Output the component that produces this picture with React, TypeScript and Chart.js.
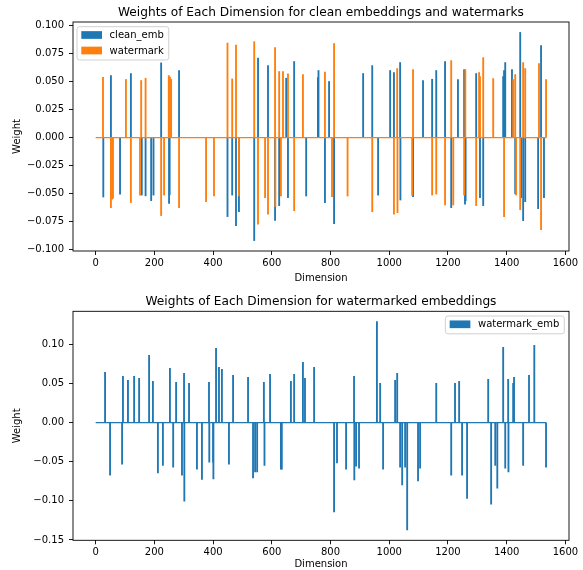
import React, { useEffect, useRef } from 'react';
import { Chart, registerables } from 'chart.js';

Chart.register(...registerables);

const N_DIMS = 1536;
const BLUE = '#1f77b4';
const ORANGE = '#ff7f0e';
const FONT = '"DejaVu Sans", sans-serif';

const TOP_TITLE = 'Weights of Each Dimension for clean embeddings and watermarks';
const BOTTOM_TITLE = 'Weights of Each Dimension for watermarked embeddings';
const X_LABEL = 'Dimension';
const Y_LABEL = 'Weight';
const CLEAN_LABEL = 'clean_emb';
const WM_LABEL = 'watermark';
const WMEMB_LABEL = 'watermark_emb';

const CLEAN_DIMS = [26, 52, 83, 120, 157, 170, 189, 197, 223, 250, 252, 284,
  449, 465, 478, 488, 540, 553, 587, 611, 625, 649, 655, 676, 717, 757, 759, 781,
  795, 812, 911, 942, 962, 1003, 1016, 1037, 1038, 1081, 1115, 1146, 1160, 1190,
  1211, 1234, 1255, 1258, 1260, 1296, 1309, 1320, 1388, 1391, 1395, 1418, 1429, 1446, 1449, 1456, 1463, 1507, 1517, 1527];
const CLEAN_VALS = [-0.053, 0.0554, -0.0504, 0.0572, -0.0513, -0.052, -0.0563, -0.0513, 0.0667, -0.0587, -0.051, 0.0599,
  -0.0705, -0.0513, -0.0785, -0.066, -0.0919, 0.0711, 0.0643, -0.074, -0.0607, 0.053, -0.0536, 0.0679, -0.0521, 0.0536, 0.0599, -0.058,
  0.0501, -0.0767, 0.0572, 0.0643, -0.0513, 0.0599, 0.0581, 0.067, -0.0557, -0.0527, 0.051, 0.0521, 0.0599, 0.0679,
  -0.0625, 0.0519, 0.0607, -0.0593, -0.0563, 0.0572, -0.0536, -0.0607, 0.0545, 0.0599, 0.067, 0.0607, -0.0501, 0.0939, -0.0536, -0.0741, -0.0572, -0.0634, 0.0821, -0.0536];

const WM_DIMS = [25, 52, 56, 59, 103, 120, 151, 155, 170, 223, 233, 249, 253, 257, 284, 376,
  403, 449, 465, 478, 488, 540, 553, 577, 587, 611, 612, 625, 631, 638, 655, 676, 706, 781,
  805, 812, 858, 942, 1016, 1027, 1028, 1078, 1081, 1146, 1160, 1190,
  1211, 1218, 1255, 1259, 1296, 1306, 1309, 1320, 1354, 1391, 1422, 1429, 1432, 1446, 1456, 1463, 1510, 1517, 1534];
const WM_VALS = [0.0539, -0.0625, -0.055, -0.054, 0.0519, -0.058, -0.0513, 0.051, 0.053, -0.0696, -0.0513, 0.0554, 0.054, 0.052, -0.0625, -0.0572,
  -0.0521, 0.0844, 0.0524, 0.0827, -0.0521, 0.0856, -0.0773, -0.0536, -0.0684, 0.0803, -0.0616, 0.059, -0.0521, 0.059, 0.0569, -0.0652, 0.0563, 0.0584,
  -0.0527, 0.0839, -0.0521, -0.0661, -0.0684, 0.0616, -0.067, -0.0516, 0.0607, -0.0513, -0.0504, -0.0601,
  0.0687, -0.0601, -0.0513, 0.0607, -0.0607, 0.0581, 0.0545, 0.0714, 0.0527, -0.0705, 0.0519, 0.0563, -0.0513, -0.0643, 0.067, 0.0616, 0.0661, -0.0821, 0.0519];

const WMEMB_DIMS = [32, 49, 90, 93, 110, 131, 148, 182, 195, 212, 229, 253, 264, 274, 294, 301, 302, 318, 345, 362,
  386, 387, 400, 401, 410, 420, 430, 454, 468, 519, 536, 543, 550, 573, 575, 594, 631, 634, 665, 676, 706, 713, 744,
  812, 822, 853, 880, 881, 887, 897, 958, 969, 979, 1020, 1027, 1037, 1044, 1054, 1061, 1098, 1105, 1160,
  1211, 1224, 1238, 1248, 1265, 1337, 1347, 1361, 1368, 1388, 1395, 1405, 1406, 1422, 1425, 1456, 1476, 1494, 1534];
const WMEMB_VALS = [0.0644, -0.0673, -0.0533, 0.0593, 0.0541, 0.0593, 0.0567, 0.0861, 0.0529, -0.0644, -0.0546, 0.0695, -0.0571, 0.0516, -0.0673, 0.0631, -0.1006, 0.0503, -0.0597, -0.0725,
  0.0516, -0.0507, -0.0507, -0.072, 0.0951, 0.0708, 0.0682, -0.0533, 0.0605, 0.058, -0.0708, -0.0631, -0.0631, 0.0516, -0.0546, 0.0618, -0.0597, -0.0597, 0.0529, 0.0618, 0.0772, 0.0567, 0.0708,
  -0.1142, -0.0516, -0.0597, 0.0593, -0.0733, -0.0558, -0.0584, 0.129, 0.0503, -0.0597, 0.0541, 0.0631, -0.0571, -0.0797, -0.0571, -0.1372, -0.0746, -0.0584, 0.0503,
  -0.0673, 0.0503, 0.0529, -0.0673, -0.0968, 0.0554, -0.1044, -0.0546, -0.084, 0.0963, -0.0584, 0.0554, -0.0631, 0.0503, 0.058, -0.0546, 0.0605, 0.0989, -0.0571];

const X_TICKS = [0, 200, 400, 600, 800, 1000, 1200, 1400, 1600];
const TOP_Y_TICKS = [-0.1, -0.075, -0.05, -0.025, 0, 0.025, 0.05, 0.075, 0.1];
const BOTTOM_Y_TICKS = [-0.15, -0.1, -0.05, 0, 0.05, 0.1];
const X_RANGE = [-77.2, 1612.2];
const TOP_Y_RANGE = [-0.1012, 0.1032];
const BOTTOM_Y_RANGE = [-0.1505, 0.1423];

const fmt = (v: number, d: number) => v.toFixed(d).replace('-', '\u2212');

const pts = (dims: number[], vals: number[]) => dims.map((d, i) => ({ x: d, y: vals[i] }));

type LegendItem = { label: string; color: string };

const overlay = (title: string, items: LegendItem[], corner: 'left' | 'right') => ({
  id: 'overlay',
  afterDraw(chart: any) {
    const { ctx, chartArea: a } = chart;
    ctx.save();
    // axes frame
    ctx.strokeStyle = '#000';
    ctx.lineWidth = 0.9;
    ctx.strokeRect(a.left, a.top, a.right - a.left, a.bottom - a.top);
    // title centred over the axes
    ctx.font = `12.2px ${FONT}`;
    ctx.fillStyle = '#000';
    ctx.textAlign = 'center';
    ctx.textBaseline = 'alphabetic';
    ctx.fillText(title, (a.left + a.right) / 2, a.top - 6.3);
    // legend
    ctx.font = `10px ${FONT}`;
    const textW = Math.max(...items.map((it) => ctx.measureText(it.label).width));
    const w = 4.3 + 20.7 + 7.6 + textW + 5;
    const h = 8.3 + 15.5 * (items.length - 1) + 9.5;
    const x = corner === 'left' ? a.left + 4 : a.right - 4.7 - w;
    const y = a.top + 4.7;
    ctx.beginPath();
    (ctx as any).roundRect(x, y, w, h, 2.5);
    ctx.fillStyle = 'rgba(255,255,255,0.8)';
    ctx.fill();
    ctx.strokeStyle = '#d0d0d0';
    ctx.lineWidth = 1;
    ctx.stroke();
    items.forEach((it, i) => {
      const cy = y + 8.3 + i * 15.5;
      ctx.fillStyle = it.color;
      ctx.fillRect(x + 4.3, cy - 3.85, 20.7, 7.7);
      ctx.fillStyle = '#000';
      ctx.textBaseline = 'middle';
      ctx.textAlign = 'left';
      ctx.fillText(it.label, x + 4.3 + 20.7 + 7.6, cy + 0.5);
    });
    ctx.restore();
  },
});

const makeOptions = (o: {
  topPad: number; yRange: number[]; yTicks: number[]; yDec: number; xAxisH: number; xTitlePadB: number;
}) => ({
  responsive: false,
  animation: false as const,
  devicePixelRatio: 1,
  layout: { padding: { left: 0, right: 14, top: o.topPad, bottom: 0 } },
  plugins: {
    legend: { display: false },
    tooltip: { enabled: false },
    title: { display: false },
  },
  scales: {
    x: {
      type: 'linear' as const,
      offset: false,
      min: X_RANGE[0],
      max: X_RANGE[1],
      afterBuildTicks: (s: any) => { s.ticks = X_TICKS.map((v) => ({ value: v })); },
      afterFit: (s: any) => { s.height = o.xAxisH; },
      ticks: {
        autoSkip: false, maxRotation: 0, color: '#000', padding: 2,
        font: { family: FONT, size: 10 },
        callback: (v: any) => String(v),
      },
      grid: { display: true, offset: false, drawOnChartArea: false, drawTicks: true, tickLength: 4, tickColor: '#000', tickWidth: 0.9 },
      border: { display: false },
      title: { display: true, text: X_LABEL, color: '#000', font: { family: FONT, size: 10, lineHeight: 1.2 }, padding: { top: 0, bottom: o.xTitlePadB } },
    },
    y: {
      type: 'linear' as const,
      min: o.yRange[0],
      max: o.yRange[1],
      afterBuildTicks: (s: any) => { s.ticks = o.yTicks.map((v) => ({ value: v })); },
      afterFit: (s: any) => { s.width = 73; },
      ticks: {
        color: '#000', padding: 5,
        font: { family: FONT, size: 10 },
        callback: (v: any) => fmt(Number(v), o.yDec),
      },
      grid: { display: true, drawOnChartArea: false, drawTicks: true, tickLength: 4, tickColor: '#000', tickWidth: 0.9 },
      border: { display: false },
      title: { display: true, text: Y_LABEL, color: '#000', font: { family: FONT, size: 10, lineHeight: 1.2 }, padding: { top: 11, bottom: 0 } },
    },
  },
});

const barDs = (label: string, dims: number[], vals: number[], color: string, order: number) => ({
  type: 'bar' as const,
  label,
  data: pts(dims, vals),
  backgroundColor: color,
  borderWidth: 0,
  barThickness: 1.2,
  grouped: false,
  order,
});

const zeroLine = (color: string, order: number) => ({
  type: 'line' as const,
  label: '',
  data: [{ x: 0, y: 0 }, { x: N_DIMS - 1, y: 0 }],
  borderColor: color,
  borderWidth: 1.1,
  pointRadius: 0,
  order,
});

export default function App() {
  const topRef = useRef<HTMLCanvasElement>(null);
  const botRef = useRef<HTMLCanvasElement>(null);

  useEffect(() => {
    const top = new Chart(topRef.current!, {
      type: 'bar',
      data: {
        datasets: [
          zeroLine(ORANGE, -1),
          barDs(WM_LABEL, WM_DIMS, WM_VALS, ORANGE, 0),
          barDs(CLEAN_LABEL, CLEAN_DIMS, CLEAN_VALS, BLUE, 1),
        ] as any,
      },
      options: makeOptions({
        topPad: 22, yRange: TOP_Y_RANGE, yTicks: TOP_Y_TICKS, yDec: 3, xAxisH: 39, xTitlePadB: 6,
      }) as any,
      plugins: [overlay(TOP_TITLE, [{ label: CLEAN_LABEL, color: BLUE }, { label: WM_LABEL, color: ORANGE }], 'left')],
    });
    const bot = new Chart(botRef.current!, {
      type: 'bar',
      data: {
        datasets: [
          zeroLine(BLUE, -1),
          barDs(WMEMB_LABEL, WMEMB_DIMS, WMEMB_VALS, BLUE, 0),
        ] as any,
      },
      options: makeOptions({
        topPad: 21.3, yRange: BOTTOM_Y_RANGE, yTicks: BOTTOM_Y_TICKS, yDec: 2, xAxisH: 29.7, xTitlePadB: 0,
      }) as any,
      plugins: [overlay(BOTTOM_TITLE, [{ label: WMEMB_LABEL, color: BLUE }], 'right')],
    });
    return () => { top.destroy(); bot.destroy(); };
  }, []);

  return (
    <div style={{ position: 'absolute', left: 0, top: 0, width: 583, height: 570, background: '#fff' }}>
      <canvas ref={topRef} width={583} height={290} style={{ position: 'absolute', left: 0, top: 0, display: 'block' }} />
      <canvas ref={botRef} width={583} height={280} style={{ position: 'absolute', left: 0, top: 290, display: 'block' }} />
    </div>
  );
}
